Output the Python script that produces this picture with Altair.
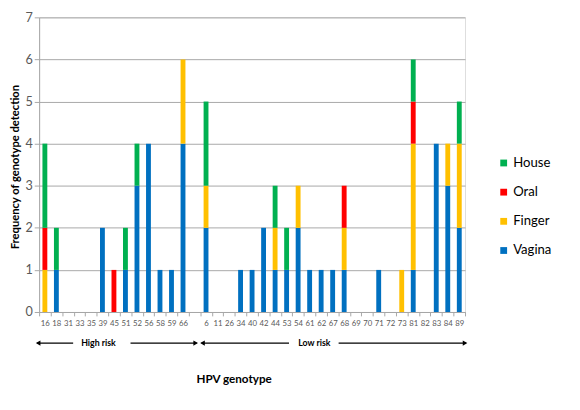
import altair as alt
import pandas as pd

categories = ["16", "18", "31", "33", "35", "39", "45", "51", "52", "56", "58", "59", "66", "gap",
              "6", "11", "26", "34", "40", "42", "44", "53", "54", "61", "62", "67", "68", "69",
              "70", "71", "72", "73", "81", "82", "83", "84", "89"]

vagina = [0, 1, 0, 0, 0, 2, 0, 1, 3, 4, 1, 1, 4, 0,
          2, 0, 0, 1, 1, 2, 1, 1, 2, 1, 1, 1, 1, 0,
          0, 1, 0, 0, 1, 0, 4, 3, 2]
finger = [1, 0, 0, 0, 0, 0, 0, 0, 0, 0, 0, 0, 2, 0,
          1, 0, 0, 0, 0, 0, 1, 0, 1, 0, 0, 0, 1, 0,
          0, 0, 0, 1, 3, 0, 0, 1, 2]
oral = [1, 0, 0, 0, 0, 0, 1, 0, 0, 0, 0, 0, 0, 0,
        0, 0, 0, 0, 0, 0, 0, 0, 0, 0, 0, 0, 1, 0,
        0, 0, 0, 0, 1, 0, 0, 0, 0]
house = [2, 1, 0, 0, 0, 0, 0, 1, 1, 0, 0, 0, 0, 0,
         2, 0, 0, 0, 0, 0, 1, 1, 0, 0, 0, 0, 0, 0,
         0, 0, 0, 0, 1, 0, 0, 0, 1]

series_names = ["Vagina", "Finger", "Oral", "House"]
series_values = [vagina, finger, oral, house]
legend_order = ["House", "Oral", "Finger", "Vagina"]
colors = ["#00B050", "#FF0000", "#FFC000", "#0070C0"]

rows = []
for si, (name, vals) in enumerate(zip(series_names, series_values)):
    for c, v in zip(categories, vals):
        rows.append({"genotype": c, "source": name, "count": v, "ord": si})
df = pd.DataFrame(rows)

W, H = 438, 303
FONT = "Lato"

bars = alt.Chart(df).mark_bar(size=5).encode(
    x=alt.X("genotype:N", sort=categories,
            scale=alt.Scale(paddingInner=0, paddingOuter=0),
            axis=alt.Axis(title="HPV genotype", labelAngle=0, labelFontSize=8,
                          labelColor="#595959", labelFont=FONT,
                          labelExpr="datum.label == 'gap' ? '' : datum.label",
                          tickBand="extent", tickColor="#A6A6A6", tickSize=4,
                          domainColor="#A6A6A6", labelPadding=4,
                          titleFont=FONT, titleFontSize=12, titleFontWeight="bold",
                          titleColor="#000000", titleX=200, titleY=68,
                          titleBaseline="middle", grid=False)),
    y=alt.Y("count:Q", stack="zero",
            scale=alt.Scale(domain=[0, 7], nice=False),
            axis=alt.Axis(title="Frequency of genotype detection", values=list(range(8)),
                          labelFontSize=13, labelColor="#595959", labelFont=FONT,
                          tickColor="#A6A6A6", tickSize=5, domainColor="#A6A6A6",
                          gridColor="#A6A6A6", gridWidth=1,
                          titleFont=FONT, titleFontSize=11.5, titleFontWeight="bold",
                          titleColor="#000000", titleX=-24, titleY=H / 2 + 2,
                          titleBaseline="middle", titleAngle=270)),
    color=alt.Color("source:N",
                    scale=alt.Scale(domain=legend_order, range=colors),
                    legend=alt.Legend(title=None, orient="none", legendX=471, legendY=143,
                                      symbolType="square", symbolSize=49,
                                      symbolStrokeWidth=0, labelFontSize=13.5,
                                      labelFont=FONT, labelColor="#000000",
                                      rowPadding=15, labelOffset=3, padding=0)),
    order=alt.Order("ord:Q", sort="ascending"),
)

# risk-group annotations below the axis
ann_y = 335
seg_df = pd.DataFrame({
    "x": [-2, 94, 167, 308],
    "x2": [35, 162, 257, 439],
})
segs = alt.Chart(seg_df).mark_rule(color="#000000", strokeWidth=1.5).encode(
    x=alt.X("x:Q", scale=None), x2="x2:Q", y=alt.value(ann_y))

head_df = pd.DataFrame({"x": [-1, 161, 168, 438],
                        "shape": ["triangle-left", "triangle-right", "triangle-left", "triangle-right"]})
heads = alt.Chart(head_df).mark_point(filled=True, size=30, color="#000000", opacity=1).encode(
    x=alt.X("x:Q", scale=None), y=alt.value(ann_y),
    shape=alt.Shape("shape:N", scale=None))

lab_df = pd.DataFrame({"x": [61, 283], "t": ["High risk", "Low risk"]})
labs = alt.Chart(lab_df).mark_text(font=FONT, fontSize=9, fontWeight="bold",
                                    color="#000000", baseline="middle").encode(
    x=alt.X("x:Q", scale=None), y=alt.value(ann_y), text="t:N")

chart = alt.layer(bars, segs, heads, labs).properties(
    width=W, height=H,
    autosize=alt.AutoSizeParams(type="none"),
    padding={"left": 32, "top": 4, "right": 110, "bottom": 90},
).configure_view(stroke=None).configure(background="white")

chart.save("out.html", embed_options={"renderer": "svg", "actions": False})
